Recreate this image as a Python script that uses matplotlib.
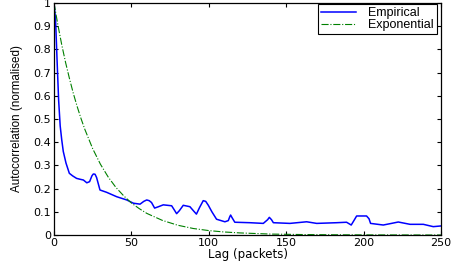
import numpy as np
import matplotlib
matplotlib.use('Agg')
import matplotlib.pyplot as plt

plt.rcParams['font.family'] = ['DejaVu Sans']

# empirical autocorrelation
emp_lag = [0, 1, 2, 3, 4, 5, 6, 7.75, 9.9, 12, 14.6, 17, 19, 21.2, 23, 24.5, 25.4, 26.5, 27.5,
           29.7, 34, 40.5, 47, 51.3, 55.6, 58, 59.9, 61.5, 63, 65, 67.5, 70.6, 76, 78, 79.2,
           81, 83.5, 87.8, 90, 92, 94, 96.4, 98, 99.7, 102, 105, 110.4, 112.6, 113.5,
           114.1, 115, 116.8, 126.6, 135.2, 138, 139.1, 140.5, 141.7, 152.4, 163.2,
           169.7, 182.6, 189, 192, 194, 195.5, 201.9, 203.5, 204.5, 212.7, 218, 222.4,
           230, 238.6, 245, 250]
emp_val = [1.0, 0.93, 0.75, 0.58, 0.47, 0.41, 0.36, 0.31, 0.266, 0.255, 0.244, 0.24,
           0.237, 0.225, 0.23, 0.255, 0.263, 0.262, 0.248, 0.194, 0.184, 0.165, 0.151,
           0.137, 0.133, 0.145, 0.151, 0.148, 0.14, 0.116, 0.122, 0.13, 0.126, 0.105,
           0.092, 0.105, 0.128, 0.122, 0.105, 0.09, 0.118, 0.148, 0.145, 0.128, 0.1,
           0.068, 0.057, 0.062, 0.078, 0.086, 0.075, 0.055, 0.053, 0.05, 0.066, 0.076,
           0.066, 0.053, 0.05, 0.057, 0.05, 0.053, 0.055, 0.043, 0.065, 0.082, 0.082,
           0.07, 0.05, 0.043, 0.05, 0.056, 0.046, 0.046, 0.036, 0.039]

# fitted exponential
exp_lag = [0, 2.5, 5, 7.5, 10, 12.5, 15, 17.5, 20, 25, 30, 35, 40, 45, 50, 55, 60, 70,
           80, 90, 100, 110, 120, 140, 160, 180, 200, 250]
exp_val = [1.0, 0.906, 0.82, 0.743, 0.674, 0.61, 0.553, 0.501, 0.454, 0.372, 0.305,
           0.25, 0.205, 0.169, 0.138, 0.114, 0.093, 0.063, 0.042, 0.028, 0.019, 0.013,
           0.009, 0.004, 0.002, 0.001, 0.0005, 0.0]

fig = plt.figure(figsize=(4.56, 2.69), dpi=100)
ax = fig.add_axes([54/456, 1 - 235/269, 387/456, 232/269])

ax.plot(emp_lag, emp_val, color='#0000ff', lw=1.1, label='Empirical')
ax.plot(exp_lag, exp_val, color='#008000', lw=0.8, ls='-.', label='Exponential')

ax.set_xlim(0, 250)
ax.set_ylim(0, 1)
ax.set_xticks(np.arange(0, 251, 50))
ax.set_yticks(np.arange(0, 1.01, 0.1))
ax.set_yticklabels(['0', '0.1', '0.2', '0.3', '0.4', '0.5', '0.6', '0.7', '0.8', '0.9', '1'])
ax.tick_params(direction='in', top=True, right=True, labelsize=8, length=3, width=0.8, pad=2)
for s in ax.spines.values():
    s.set_linewidth(0.9)

ax.set_xlabel('Lag (packets)', fontsize=8.5, labelpad=0)
ax.set_ylabel('Autocorrelation (normalised)', fontsize=8.4, family='Liberation Sans')
ax.yaxis.set_label_coords(-0.08, 0.5)

leg = ax.legend(loc='upper right', prop={'family': 'Liberation Sans', 'size': 9},
                fancybox=False, framealpha=1, edgecolor='black', borderpad=0.25,
                handlelength=2.8, labelspacing=0.0, handletextpad=1.0, borderaxespad=0,
                bbox_to_anchor=(437/456, 1 - 4/269), bbox_transform=fig.transFigure)
leg.get_frame().set_linewidth(0.8)

fig.savefig('out.png', dpi=100)
